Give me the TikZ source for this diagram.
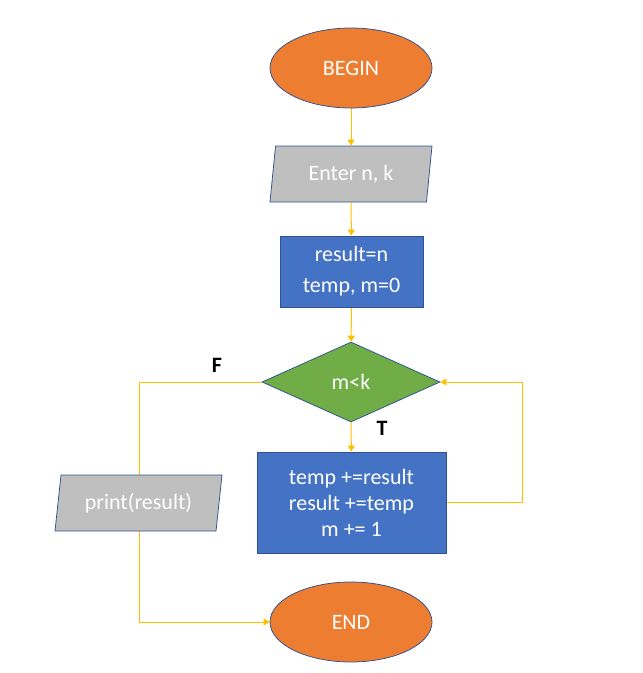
\documentclass[tikz,border=0pt]{standalone}
\usepackage{fontspec}
\setmainfont{Carlito}
\usetikzlibrary{shapes.geometric,arrows.meta,backgrounds}
\definecolor{flowgold}{HTML}{FFC000}
\definecolor{termorange}{HTML}{ED7D31}
\definecolor{procblue}{HTML}{4472C4}
\definecolor{iogray}{HTML}{BFBFBF}
\definecolor{testgreen}{HTML}{70AD47}
\definecolor{edgeblue}{HTML}{2F528F}
\begin{document}
\begin{tikzpicture}[x=1pt,y=-1pt,
  box/.style={draw=edgeblue,line width=0.75pt,text=white,align=center,
    font=\fontsize{22}{26}\selectfont,inner sep=0pt},
  term/.style={box,ellipse,fill=termorange,minimum width=162pt,minimum height=80pt},
  io/.style={box,trapezium,trapezium left angle=73,trapezium right angle=107,
    trapezium stretches body,fill=iogray,minimum height=56pt},
  proc/.style={box,rectangle,fill=procblue},
  test/.style={box,diamond,fill=testgreen,minimum width=178pt,minimum height=80pt},
  flow/.style={draw=flowgold,line width=1pt,-{Triangle[width=7pt,length=6pt]}},
  tag/.style={font=\fontsize{22}{26}\selectfont\bfseries}]
\useasboundingbox (0,0) rectangle (643,673);
% shapes
\node[term] (begin) at (351,68) {BEGIN};
\node[io,minimum width=162pt] (input) at (351,174) {Enter n, k};
\node[proc,minimum width=143pt,minimum height=71pt] (init) at (351.5,271.5) {result=n\\[5pt]temp, m=0};
\node[test] (cond) at (351,382) {m<k};
\node[proc,minimum width=189pt,minimum height=101pt] (body) at (351.5,502.5) {temp +=result\\result +=temp\\m += 1};
\node[io,minimum width=167pt] (output) at (138.5,503) {print(result)};
\node[term] (end) at (351,622) {END};
% labels
\node[tag] (lblf) at (217,365) {F};
\node[tag] (lblt) at (382,428) {T};
% connectors
\begin{pgfonlayer}{background}
\draw[flow] (begin) -- (input);
\draw[flow] (input) -- (init);
\draw[flow] (init) -- (cond);
\draw[flow] (cond) -- (body);
\draw[flow] (body.east) -- ++(76,0) |- (cond.east);
\draw[flow] (cond.west) -- ++(-122,0) |- (end.west);
\end{pgfonlayer}
\end{tikzpicture}
\end{document}
